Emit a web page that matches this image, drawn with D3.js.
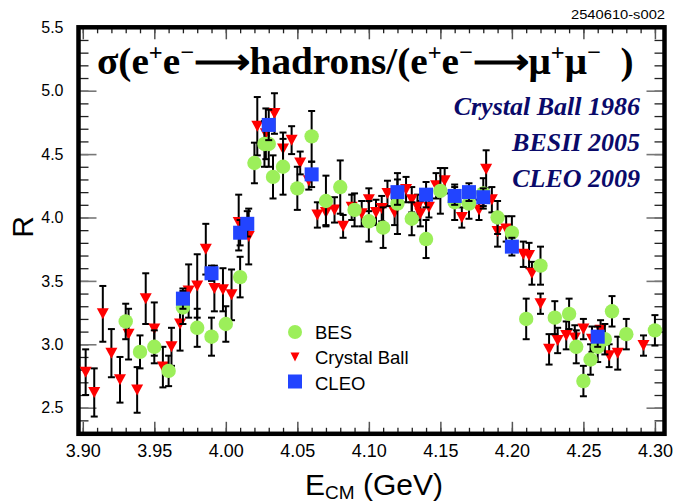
<!DOCTYPE html>
<html>
<head>
<meta charset="utf-8">
<script src="https://cdn.jsdelivr.net/npm/d3@7"></script>
<style>
  body { margin: 0; background: #fff; }
</style>
</head>
<body>
<svg id="chart" width="676" height="503"></svg>
<script>
// BES 2005 scan
const besE = [3.93, 3.94, 3.95, 3.96, 3.97, 3.98, 3.99, 4.00, 4.01, 4.02, 4.027, 4.03, 4.033, 4.04, 4.05, 4.06, 4.07, 4.08, 4.09, 4.10,
              4.11, 4.12, 4.13, 4.14, 4.15, 4.16, 4.17, 4.18, 4.19, 4.20, 4.21, 4.22, 4.23, 4.24, 4.245, 4.25, 4.255, 4.26, 4.265, 4.27, 4.28, 4.30];
const besR = [3.18, 2.94, 2.98, 2.79, 3.29, 3.13, 3.06, 3.16, 3.53, 4.43, 4.58, 4.58, 4.32, 4.40, 4.23, 4.64, 4.13, 4.24, 4.06, 3.97,
              3.92, 4.11, 3.99, 3.83, 4.21, 4.12, 4.11, 4.19, 4.00, 3.88, 3.20, 3.62, 3.21, 3.24, 2.98, 2.71, 2.88, 2.98, 3.04, 3.26, 3.08, 3.11];
const besErr = [0.14, 0.13, 0.13, 0.12, 0.13, 0.15, 0.15, 0.14, 0.16, 0.16, 0.18, 0.18, 0.17, 0.22, 0.17, 0.20, 0.20, 0.21, 0.13, 0.16,
                0.16, 0.24, 0.13, 0.15, 0.18, 0.14, 0.12, 0.12, 0.13, 0.13, 0.16, 0.15, 0.13, 0.12, 0.13, 0.12, 0.12, 0.12, 0.12, 0.12, 0.12, 0.12];

// Crystal Ball 1986
const cbE = [3.902, 3.908, 3.914, 3.920, 3.926, 3.932, 3.938, 3.944, 3.950, 3.956, 3.962, 3.968, 3.974, 3.980, 3.986, 3.992, 3.998,
             4.004, 4.009, 4.016, 4.022, 4.028, 4.034, 4.040, 4.046, 4.052, 4.058, 4.064, 4.070, 4.076, 4.082, 4.088, 4.095, 4.100,
             4.105, 4.109, 4.113, 4.118, 4.126, 4.130, 4.134, 4.136, 4.142, 4.147, 4.153, 4.165, 4.177, 4.182, 4.186, 4.190, 4.196,
             4.208, 4.212, 4.214, 4.220, 4.226, 4.232, 4.238, 4.244, 4.250, 4.256, 4.262, 4.268, 4.274, 4.292];
const cbR = [2.78, 2.62, 3.24, 2.93, 2.72, 3.08, 2.64, 3.36, 3.12, 2.82, 2.98, 3.16, 3.42, 3.46, 3.75, 3.44, 3.43,
             3.39, 3.96, 3.85, 4.72, 4.66, 4.82, 4.54, 4.61, 4.43, 4.29, 4.02, 4.04, 4.06, 3.93, 4.08, 4.03, 4.14,
             4.04, 4.07, 4.19, 4.04, 4.22, 4.14, 4.08, 4.03, 4.08, 4.25, 4.29, 4.00, 4.06, 4.38, 4.14, 3.89, 3.91,
             3.71, 3.70, 3.56, 3.32, 2.96, 3.03, 3.07, 3.05, 3.12, 3.04, 3.11, 2.91, 2.93, 2.99];
const cbErr = [0.18, 0.19, 0.22, 0.19, 0.18, 0.20, 0.18, 0.20, 0.21, 0.16, 0.15, 0.21, 0.21, 0.25, 0.20, 0.18, 0.17,
               0.20, 0.22, 0.22, 0.23, 0.20, 0.16, 0.13, 0.11, 0.09, 0.07, 0.10, 0.10, 0.10, 0.09, 0.10, 0.10, 0.09,
               0.10, 0.10, 0.10, 0.10, 0.10, 0.10, 0.10, 0.10, 0.08, 0.10, 0.10, 0.08, 0.08, 0.15, 0.10, 0.12, 0.10,
               0.10, 0.10, 0.09, 0.08, 0.12, 0.10, 0.11, 0.10, 0.08, 0.10, 0.08, 0.09, 0.13, 0.08];

// CLEO 2009
const cleoE = [3.97, 3.99, 4.01, 4.015, 4.03, 4.06, 4.12, 4.14, 4.16, 4.17, 4.18, 4.20, 4.26];
const cleoR = [3.36, 3.56, 3.88, 3.95, 4.73, 4.34, 4.20, 4.18, 4.17, 4.20, 4.16, 3.77, 3.06];
const cleoErr = [0.08, 0.06, 0.10, 0.10, 0.12, 0.10, 0.10, 0.10, 0.07, 0.07, 0.07, 0.07, 0.08];

// axis ticks
const xMajorTicks = [3.90, 3.95, 4.00, 4.05, 4.10, 4.15, 4.20, 4.25, 4.30];
const xTickLabels = ["3.90", "3.95", "4.00", "4.05", "4.10", "4.15", "4.20", "4.25", "4.30"];
const yMajorTicks = [2.5, 3.0, 3.5, 4.0, 4.5, 5.0, 5.5];
const yTickLabels = ["2.5", "3.0", "3.5", "4.0", "4.5", "5.0", "5.5"];
const xMinorTicks = d3.range(0, 41).map(i => +(3.90 + i * 0.01).toFixed(2));
const yMinorTicks = d3.range(0, 33).map(i => +(2.3 + i * 0.1).toFixed(1));

const experiments = ["Crystal Ball 1986", "BESII 2005", "CLEO 2009"];
const legendNames = ["BES", "Crystal Ball", "CLEO"];

const SANS = "'Liberation Sans', Arial, Helvetica, sans-serif";
const SERIF = "'Liberation Serif', 'Times New Roman', Times, serif";

const svg = d3.select("#chart").style("font-family", SANS);

const x = d3.scaleLinear().domain([3.897, 4.3067]).range([78.5, 664.5]);
const y = d3.scaleLinear().domain([2.294, 5.5]).range([433.8, 27.3]);
const plotLeft = x.range()[0], plotRight = x.range()[1];
const plotTop = y.range()[1], plotBottom = y.range()[0];

const green = "#9cef5a", red = "#ff0000", blue = "#2244ff";

// ticks (inside the frame, on all four sides)
function tickGroup(axis, tx, ty) {
  const g = svg.append("g").attr("transform", `translate(${tx},${ty})`).call(axis);
  g.select(".domain").remove();
  g.attr("font-family", null);
  return g;
}
const fmtNone = () => "";
tickGroup(d3.axisBottom(x).tickValues(xMinorTicks).tickSize(-6).tickFormat(fmtNone), 0, plotBottom)
  .selectAll("line").attr("stroke", "#222").attr("stroke-width", 1.3);
tickGroup(d3.axisTop(x).tickValues(xMinorTicks).tickSize(-6).tickFormat(fmtNone), 0, plotTop)
  .selectAll("line").attr("stroke", "#222").attr("stroke-width", 1.3);
const xb = tickGroup(d3.axisBottom(x).tickValues(xMajorTicks).tickSize(-12).tickPadding(10)
  .tickFormat((d, i) => xTickLabels[i]), 0, plotBottom);
xb.selectAll("line").attr("stroke", "#555").attr("stroke-width", 1.5);
xb.selectAll("text").attr("font-size", 18).attr("fill", "#000");
tickGroup(d3.axisTop(x).tickValues(xMajorTicks).tickSize(-12).tickFormat(fmtNone), 0, plotTop)
  .selectAll("line").attr("stroke", "#555").attr("stroke-width", 1.5);

tickGroup(d3.axisLeft(y).tickValues(yMinorTicks).tickSize(-10).tickFormat(fmtNone), plotLeft, 0)
  .selectAll("line").attr("stroke", "#222").attr("stroke-width", 1.3);
tickGroup(d3.axisRight(y).tickValues(yMinorTicks).tickSize(-10).tickFormat(fmtNone), plotRight, 0)
  .selectAll("line").attr("stroke", "#222").attr("stroke-width", 1.3);
const yl = tickGroup(d3.axisLeft(y).tickValues(yMajorTicks).tickSize(-18).tickPadding(15)
  .tickFormat((d, i) => yTickLabels[i]), plotLeft, 0);
yl.selectAll("line").attr("stroke", "#777").attr("stroke-width", 1.6);
yl.selectAll("text").attr("font-size", 16).attr("fill", "#000");
tickGroup(d3.axisRight(y).tickValues(yMajorTicks).tickSize(-18).tickFormat(fmtNone), plotRight, 0)
  .selectAll("line").attr("stroke", "#777").attr("stroke-width", 1.6);

// frame
svg.append("rect")
  .attr("x", plotLeft).attr("y", plotTop)
  .attr("width", plotRight - plotLeft).attr("height", plotBottom - plotTop)
  .attr("fill", "none").attr("stroke", "#000").attr("stroke-width", 4.5);

// data helpers
function series(E, R, err) {
  return E.map((e, i) => ({ e: e, r: R[i], err: err[i] }));
}
function errorBars(data) {
  const g = svg.append("g").attr("stroke", "#000").attr("stroke-width", 2);
  g.selectAll("line.bar").data(data).join("line").attr("class", "bar")
    .attr("x1", d => x(d.e)).attr("x2", d => x(d.e))
    .attr("y1", d => y(d.r + d.err)).attr("y2", d => y(d.r - d.err));
  g.selectAll("line.capt").data(data).join("line").attr("class", "capt")
    .attr("x1", d => x(d.e) - 3.5).attr("x2", d => x(d.e) + 3.5)
    .attr("y1", d => y(d.r + d.err)).attr("y2", d => y(d.r + d.err));
  g.selectAll("line.capb").data(data).join("line").attr("class", "capb")
    .attr("x1", d => x(d.e) - 3.5).attr("x2", d => x(d.e) + 3.5)
    .attr("y1", d => y(d.r - d.err)).attr("y2", d => y(d.r - d.err));
}
function triPath(cx, cy, w, h) {
  return `M${cx - w / 2},${cy - h / 2}L${cx + w / 2},${cy - h / 2}L${cx},${cy + h / 2}Z`;
}

const cbData = series(cbE, cbR, cbErr);
const besData = series(besE, besR, besErr);
const cleoData = series(cleoE, cleoR, cleoErr);

errorBars(cbData);
svg.append("g").selectAll("path").data(cbData).join("path")
  .attr("d", d => triPath(x(d.e), y(d.r), 12, 11))
  .attr("fill", red);

errorBars(besData);
svg.append("g").selectAll("circle").data(besData).join("circle")
  .attr("cx", d => x(d.e)).attr("cy", d => y(d.r)).attr("r", 7.2)
  .attr("fill", green);

errorBars(cleoData);
svg.append("g").selectAll("rect").data(cleoData).join("rect")
  .attr("x", d => x(d.e) - 7).attr("y", d => y(d.r) - 7)
  .attr("width", 14).attr("height", 14)
  .attr("fill", blue);

// title, stretched to the width it has in the figure
const titleLeft = 97, titleWidth = 538;
const title = svg.append("text")
  .attr("x", titleLeft).attr("y", 74)
  .style("font-family", SERIF)
  .attr("font-weight", "bold").attr("font-size", 37).attr("fill", "#000");
const pieces = [["σ(e", 0], ["+", 1], ["e", 0], ["−", 1], ["⟶", 0], ["hadrons/(e", 0], ["+", 1], ["e", 0], ["−", 1],
                ["⟶", 0], ["μ", 0], ["+", 1], ["μ", 0], ["−", 1], ["  )", 0]];
let raised = false;
pieces.forEach(([t, sup]) => {
  const ts = title.append("tspan").text(t);
  if (sup && !raised) { ts.attr("dy", -14).attr("font-size", 23); raised = true; }
  else if (sup) { ts.attr("font-size", 23); }
  else if (!sup && raised) { ts.attr("dy", 14); raised = false; }
});
title.attr("xml:space", "preserve").style("white-space", "pre");
const tb = title.node().getBBox();
const sx = titleWidth / tb.width;
title.attr("transform", `translate(${titleLeft},0) scale(${sx},1) translate(${-titleLeft},0)`);

// experiment labels
svg.append("g").selectAll("text").data(experiments).join("text")
  .attr("x", 640).attr("y", (d, i) => 115 + i * 36)
  .attr("text-anchor", "end")
  .style("font-family", SERIF)
  .attr("font-weight", "bold").attr("font-style", "italic")
  .attr("font-size", 26).attr("fill", "#0a0a6a")
  .text(d => d);

// figure id
svg.append("text")
  .attr("x", 665).attr("y", 18.5).attr("text-anchor", "end")
  .attr("font-size", 12).attr("fill", "#000")
  .attr("textLength", 94).attr("lengthAdjust", "spacingAndGlyphs")
  .text("2540610-s002");

// legend
const lg = svg.append("g").attr("transform", "translate(295,332)");
lg.append("circle").attr("cx", 0).attr("cy", 0).attr("r", 7).attr("fill", green);
lg.append("path").attr("d", triPath(0, 25, 9, 9)).attr("fill", red);
lg.append("rect").attr("x", -7).attr("y", 49.5 - 7).attr("width", 14).attr("height", 14).attr("fill", blue);
lg.selectAll("text").data(legendNames).join("text")
  .attr("x", 20).attr("y", (d, i) => 6.5 + i * 25.5)
  .attr("font-size", 18.5).attr("fill", "#000")
  .text(d => d);

// axis titles
svg.append("text")
  .attr("transform", "translate(33,227) rotate(-90)")
  .attr("text-anchor", "middle").attr("font-size", 30).attr("fill", "#000")
  .text("R");
const xt = svg.append("text").attr("x", 305).attr("y", 495).attr("font-size", 30).attr("fill", "#000");
xt.append("tspan").text("E");
xt.append("tspan").attr("font-size", 19).attr("dy", 4).text("CM");
xt.append("tspan").attr("dy", -4).text(" (GeV)");
</script>
</body>
</html>
